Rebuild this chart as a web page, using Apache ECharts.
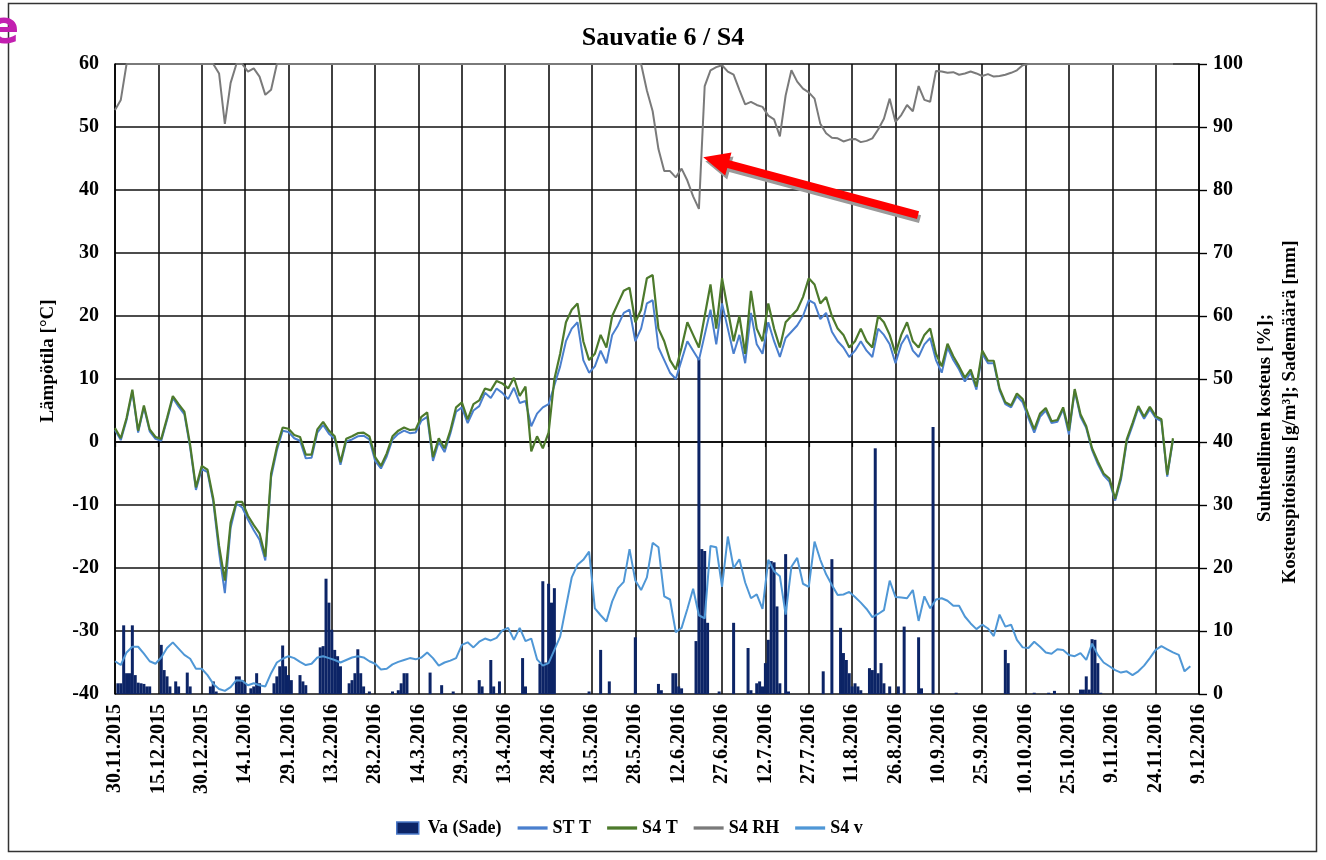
<!DOCTYPE html>
<html>
<head>
<meta charset="utf-8">
<script src="https://cdn.jsdelivr.net/npm/echarts@6/dist/echarts.min.js"></script>
<style>
html,body{margin:0;padding:0;background:#fff;}
#chart{width:1326px;height:860px;}
</style>
</head>
<body>
<div id="chart"></div>
<script>
// Date tick labels, one every 15 days from 30.11.2015
const dateLabels = ['30.11.2015','15.12.2015','30.12.2015','14.1.2016','29.1.2016','13.2.2016',
  '28.2.2016','14.3.2016','29.3.2016','13.4.2016','28.4.2016','13.5.2016','28.5.2016','12.6.2016',
  '27.6.2016','12.7.2016','27.7.2016','11.8.2016','26.8.2016','10.9.2016','25.9.2016','10.10.2016',
  '25.10.2016','9.11.2016','24.11.2016','9.12.2016'];
const tickStep = 15;      // days between date ticks
const sampleStep = 2;     // days between line samples (first sample = 30.11.2015)

// ST T, outdoor temperature [°C]
const stT = [
  1.9, 0.3, 3.5, 8.0, 1.5, 5.5, 1.7, 0.5, 0.2, 3.5,
  7.0, 5.6, 4.4, -0.9, -7.6, -4.3, -4.8, -9.5, -17.5, -24.0,
  -13.6, -9.8, -10.4, -12.3, -14.0, -15.5, -18.8, -5.6, -1.3, 1.8,
  1.6, 0.6, 0.2, -2.6, -2.5, 1.5, 2.7, 1.3, 0.5, -3.6,
  0.1, 0.4, 0.9, 1.0, 0.4, -3.0, -4.2, -2.3, 0.4, 1.3,
  1.8, 1.4, 1.5, 3.4, 4.0, -3.0, 0.0, -1.6, 1.3, 4.8,
  5.5, 3.0, 5.0, 5.7, 7.8, 7.0, 8.5, 7.8, 6.8, 8.6,
  6.2, 6.5, 2.5, 4.5, 5.5, 6.0, 9.0, 12.0, 16.0, 18.0,
  19.0, 13.0, 11.0, 12.0, 14.5, 12.5, 17.0, 18.5, 20.5, 21.0,
  16.0, 18.0, 22.0, 22.5, 15.0, 13.0, 11.0, 10.0, 13.0, 16.0,
  14.5, 13.0, 17.0, 21.0, 15.5, 22.0, 18.0, 14.0, 17.0, 12.5,
  20.5, 15.5, 14.0, 19.0, 16.0, 13.5, 16.5, 17.5, 18.5, 20.0,
  22.5, 22.0, 19.5, 20.5, 17.5, 16.0, 15.0, 13.5, 14.5, 16.0,
  14.5, 13.5, 18.0, 17.0, 15.5, 12.5, 15.5, 17.0, 14.5, 13.5,
  15.5, 16.5, 13.0, 11.0, 15.0, 13.0, 11.5, 9.6, 11.0, 8.3,
  14.0, 12.5, 12.5, 8.2, 6.0, 5.5, 7.3, 6.3, 3.8, 1.5,
  4.0, 5.0, 3.0, 3.2, 5.2, 1.2, 8.1, 4.0, 2.2, -1.3,
  -3.5, -5.3, -6.3, -9.3, -6.0, 0.0, 2.6, 5.4, 3.7, 5.2,
  3.8, 3.3, -5.5, 0.3
];

// S4 T, temperature at measuring point S4 [°C]
const s4T = [
  2.2, 0.6, 3.8, 8.3, 1.8, 5.8, 2.0, 0.8, 0.5, 3.8,
  7.3, 6.0, 4.8, -0.5, -7.2, -3.8, -4.4, -9.0, -16.5, -22.0,
  -12.8, -9.5, -9.5, -11.7, -13.2, -14.5, -18.2, -5.0, -0.8, 2.3,
  2.1, 1.1, 0.8, -2.0, -2.0, 2.0, 3.2, 1.8, 0.9, -3.2,
  0.5, 0.9, 1.4, 1.5, 0.9, -2.4, -3.8, -1.8, 0.9, 1.8,
  2.3, 1.9, 2.0, 4.0, 4.7, -2.4, 0.6, -1.0, 1.8, 5.5,
  6.3, 3.6, 6.0, 6.6, 8.5, 8.2, 9.7, 9.3, 8.5, 10.2,
  7.3, 8.8, -1.5, 0.9, -1.0, 1.5, 10.0, 14.0, 19.0, 21.0,
  22.0, 16.0, 13.0, 14.0, 17.0, 15.0, 20.0, 22.0, 24.0, 24.5,
  19.0, 21.0, 26.0, 26.5, 18.0, 16.0, 13.0, 11.5, 15.0, 19.0,
  17.0, 15.0, 20.0, 25.0, 18.0, 26.0, 21.0, 16.0, 20.0, 14.0,
  24.0, 18.0, 16.0, 22.0, 18.0, 15.0, 19.0, 20.0, 21.0, 23.0,
  26.0, 25.0, 22.0, 23.0, 20.0, 18.0, 17.0, 15.0, 16.0, 18.0,
  16.0, 15.0, 20.0, 19.0, 17.0, 14.0, 17.0, 19.0, 16.0, 15.0,
  17.0, 18.0, 14.0, 12.0, 15.6, 13.6, 12.0, 10.2, 11.5, 8.8,
  14.5, 12.9, 12.9, 8.5, 6.3, 5.8, 7.7, 6.8, 4.3, 2.0,
  4.5, 5.4, 3.3, 3.5, 5.5, 1.8, 8.4, 4.4, 2.5, -1.0,
  -3.1, -5.0, -5.8, -9.0, -5.5, 0.4, 3.0, 5.7, 4.0, 5.6,
  4.1, 3.6, -5.2, 0.6
];

// S4 RH, relative humidity at S4 [%]
const s4RH = [
  92.7, 94.3, 100, 100, 100, 100, 100, 100, 100, 100,
  100, 100, 100, 100, 100, 100, 100, 100, 98.5, 90.5,
  97.0, 100, 100, 98.8, 99.3, 98.0, 95.1, 95.9, 100, 100,
  100, 100, 100, 100, 100, 100, 100, 100, 100, 100,
  100, 100, 100, 100, 100, 100, 100, 100, 100, 100,
  100, 100, 100, 100, 100, 100, 100, 100, 100, 100,
  100, 100, 100, 100, 100, 100, 100, 100, 100, 100,
  100, 100, 100, 100, 100, 100, 100, 100, 100, 100,
  100, 100, 100, 100, 100, 100, 100, 100, 100, 100,
  100, 100, 95.8, 92.5, 86.5, 83.0, 83.0, 82.0, 83.4, 81.5,
  79.0, 77.0, 96.5, 99.0, 99.5, 99.8, 98.8, 98.3, 95.9, 93.6,
  94.0, 93.5, 93.2, 91.8, 91.2, 88.5, 95.0, 99.0, 97.2, 96.1,
  95.5, 94.5, 90.5, 89.0, 88.3, 88.2, 87.7, 88.0, 88.1, 87.6,
  87.8, 88.2, 89.6, 91.3, 94.5, 90.8, 91.9, 93.5, 92.5, 96.5,
  94.3, 94.0, 98.9, 98.8, 98.6, 98.7, 98.3, 98.5, 98.8, 98.5,
  98.1, 98.4, 98.0, 98.1, 98.3, 98.6, 99.0, 99.8, 100, 100,
  100, 100, 100, 100, 100, 100, 100, 100, 100, 100,
  100, 100, 100, 100, 100, 100, 100, 100, 100, 100,
  100, 100, 100, 100
];

// S4 v, moisture content at S4 [g/m³]
const s4v = [
  5.2, 4.6, 6.6, 7.5, 7.5, 6.4, 5.2, 4.8, 5.8, 7.3,
  8.2, 7.2, 6.2, 5.6, 4.0, 4.0, 3.0, 1.6, 0.8, 0.5,
  1.1, 2.2, 2.1, 1.4, 1.7, 1.4, 1.2, 3.3, 5.0, 5.6,
  6.0, 5.7, 5.1, 4.6, 4.8, 5.8, 6.0, 5.7, 5.4, 5.0,
  5.4, 5.8, 6.0, 5.8, 5.2, 4.8, 3.9, 4.0, 4.7, 5.1,
  5.4, 5.7, 5.5, 5.8, 6.6, 5.7, 4.5, 5.0, 5.3, 5.7,
  7.8, 8.2, 7.4, 8.3, 8.8, 8.5, 8.9, 10.1, 10.5, 8.6,
  10.5, 8.4, 8.8, 5.5, 4.5, 4.9, 7.0, 9.1, 13.8, 18.5,
  20.5, 21.3, 22.6, 13.6, 12.5, 11.5, 14.7, 16.8, 17.8, 23.0,
  18.0, 16.5, 18.5, 24.0, 23.3, 15.5, 15.0, 9.8, 10.5, 13.5,
  16.7, 12.5, 12.0, 23.5, 23.3, 17.0, 25.0, 20.0, 21.4, 17.7,
  15.2, 15.8, 13.5, 21.3, 19.5, 18.7, 12.6, 20.2, 21.6, 17.5,
  17.0, 24.2, 21.3, 19.0, 17.3, 15.7, 15.8, 16.2, 15.4, 14.5,
  13.5, 12.2, 12.7, 13.3, 18.0, 15.4, 15.3, 15.2, 16.5, 11.6,
  15.5, 13.6, 15.0, 15.2, 14.8, 14.0, 14.0, 12.3, 11.2, 10.3,
  11.0, 10.4, 9.2, 12.6, 10.7, 11.0, 8.6, 7.4, 7.3, 8.3,
  7.5, 6.6, 6.4, 7.1, 7.0, 6.2, 6.0, 6.5, 5.4, 8.0,
  6.2, 5.0, 4.4, 3.8, 3.4, 3.6, 3.0, 3.6, 4.5, 5.7,
  7.0, 7.6, 7.1, 6.6, 6.2, 3.6, 4.4
];

// Va (Sade): daily precipitation [mm] as [day since 30.11.2015, mm]
const rainDays = [1,2,3,4,5,6,7,8,9,10,11,12,16,17,18,19,21,22,25,26,33,34,35,42,43,44,45,47,48,49,50,
  55,56,57,58,59,60,61,64,65,66,71,72,73,74,75,76,77,78,81,82,83,84,85,86,88,96,98,99,100,101,109,113,117,
  126,127,130,131,133,141,142,147,148,149,150,151,152,164,168,171,180,188,189,193,194,195,196,
  201,202,203,204,205,209,214,219,220,222,223,224,225,226,227,228,229,230,232,233,245,248,251,252,253,
  254,255,256,257,258,261,262,263,264,265,266,268,271,273,278,279,283,291,308,309,318,323,325,
  334,335,336,337,338,339,340,341];
const rainMm = [1.7,1.7,10.9,3.3,3.3,10.9,3.0,1.8,1.7,1.6,1.2,1.2,7.8,3.8,2.8,1.2,2.0,1.2,3.4,1.2,1.2,2.0,0.4,2.8,2.8,2.2,1.7,0.9,1.2,3.3,1.7,
  1.7,2.8,4.4,7.7,4.4,3.0,2.2,3.0,2.0,1.4,7.4,7.6,18.3,14.5,10.2,7.0,6.0,4.4,1.7,2.2,3.3,7.1,3.3,1.2,0.4,0.4,0.6,1.7,3.3,3.3,3.4,1.4,0.4,
  2.2,1.2,5.4,1.2,2.0,5.7,1.2,4.8,17.9,5.0,17.5,14.5,16.8,0.4,7.0,2.0,9.0,1.6,0.6,3.3,3.3,1.2,0.9,
  8.4,53.2,23.0,22.7,11.3,0.4,11.3,7.3,0.6,1.7,2.0,1.2,4.9,8.6,21.1,20.9,13.9,1.7,22.2,0.4,3.6,21.4,10.5,6.5,5.4,
  3.3,1.2,1.7,1.2,0.6,4.1,3.8,39.0,3.3,4.9,1.7,1.2,1.2,10.7,9.0,0.9,42.4,0.2,7.0,4.9,0.2,0.2,0.5,
  0.7,0.7,2.8,0.7,8.7,8.6,4.9,0.2];

const FONT = "'Liberation Serif', 'Times New Roman', serif";
const toPairs = arr => arr.map((v, i) => [i * sampleStep, v]);
// legend keys: thin bar for the line series, narrower box for the rain bars
const LINE_ICON = 'path://M0,0L100,0L100,11L0,11Z';
const BAR_ICON = 'path://M0,0L22,0L22,12L0,12Z';

const chart = echarts.init(document.getElementById('chart'), null, {renderer: 'canvas'});

const labelStyle = {color: '#000', fontFamily: FONT, fontWeight: 'bold'};

chart.setOption({
  animation: false,
  backgroundColor: '#fff',
  title: {
    text: 'Sauvatie 6 / S4',
    left: 'center',
    top: 20,
    textStyle: {color: '#000', fontFamily: FONT, fontWeight: 'bold', fontSize: 26}
  },
  grid: {left: 115, right: 127, top: 64, bottom: 166, containLabel: false},
  legend: {
    bottom: 18,
    left: 391,
    itemWidth: 30,
    itemHeight: 12,
    itemGap: 16,
    textStyle: Object.assign({fontSize: 18}, labelStyle),
    data: [
      {name: 'Va (Sade)', icon: BAR_ICON, itemStyle: {color: '#0c2466', borderColor: '#4a78c8', borderWidth: 1.5}},
      {name: 'ST T', icon: LINE_ICON},
      {name: 'S4 T', icon: LINE_ICON},
      {name: 'S4 RH', icon: LINE_ICON},
      {name: 'S4 v', icon: LINE_ICON}
    ]
  },
  xAxis: {
    type: 'value',
    min: 0,
    max: (dateLabels.length - 1) * tickStep,
    interval: tickStep,
    axisLine: {show: true, lineStyle: {color: '#000', width: 1.6}},
    axisTick: {show: true, length: 5, lineStyle: {color: '#000', width: 1.2}},
    splitLine: {show: true, lineStyle: {color: '#111', width: 1.6}},
    axisLabel: Object.assign({
      fontSize: 20, rotate: 90, margin: 10,
      formatter: v => dateLabels[Math.round(v / tickStep)] || ''
    }, labelStyle)
  },
  yAxis: [
    {
      type: 'value', min: -40, max: 60, interval: 10,
      axisLine: {show: true, lineStyle: {color: '#000', width: 1.6}},
      axisTick: {show: false},
      splitLine: {show: true, lineStyle: {color: '#111', width: 1.6}},
      axisLabel: Object.assign({fontSize: 20, margin: 16}, labelStyle)
    },
    {
      type: 'value', min: 0, max: 100, interval: 10, position: 'right',
      axisLine: {show: true, lineStyle: {color: '#000', width: 1.6}},
      axisTick: {show: true, length: 8, inside: false, lineStyle: {color: '#000', width: 1.4}},
      splitLine: {show: false},
      axisLabel: Object.assign({fontSize: 20, margin: 14}, labelStyle)
    }
  ],
  series: [
    {
      name: 'Va (Sade)', type: 'bar', yAxisIndex: 1, barWidth: 3,
      itemStyle: {color: '#0c2466'},
      data: rainDays.map((d, i) => [d, rainMm[i]]),
      z: 2
    },
    {
      name: 'ST T', type: 'line', yAxisIndex: 0, showSymbol: false, symbol: 'none',
      lineStyle: {color: '#4a7fce', width: 2}, itemStyle: {color: '#4a7fce'},
      data: toPairs(stT), z: 3
    },
    {
      name: 'S4 T', type: 'line', yAxisIndex: 0, showSymbol: false, symbol: 'none',
      lineStyle: {color: '#4d7a2c', width: 2.2}, itemStyle: {color: '#4d7a2c'},
      data: toPairs(s4T), z: 4
    },
    {
      name: 'S4 RH', type: 'line', yAxisIndex: 1, showSymbol: false, symbol: 'none',
      lineStyle: {color: '#7a7a7a', width: 2}, itemStyle: {color: '#7a7a7a'},
      data: toPairs(s4RH), z: 4
    },
    {
      name: 'S4 v', type: 'line', yAxisIndex: 1, showSymbol: false, symbol: 'none',
      lineStyle: {color: '#4f97d6', width: 2}, itemStyle: {color: '#4f97d6'},
      data: toPairs(s4v), z: 5
    }
  ]
});

// Annotation arrow pointing at the sudden RH recovery in late June
function arrowPoly(p0, p1, shaftW, headL, headW) {
  const dx = p1[0] - p0[0], dy = p1[1] - p0[1];
  const len = Math.hypot(dx, dy);
  const ux = dx / len, uy = dy / len, nx = -uy, ny = ux;
  const bx = p1[0] - ux * headL, by = p1[1] - uy * headL;
  return [
    [p0[0] + nx * shaftW / 2, p0[1] + ny * shaftW / 2],
    [bx + nx * shaftW / 2, by + ny * shaftW / 2],
    [bx + nx * headW / 2, by + ny * headW / 2],
    [p1[0], p1[1]],
    [bx - nx * headW / 2, by - ny * headW / 2],
    [bx - nx * shaftW / 2, by - ny * shaftW / 2],
    [p0[0] - nx * shaftW / 2, p0[1] - ny * shaftW / 2]
  ];
}
const arrowTip = chart.convertToPixel({xAxisIndex: 0, yAxisIndex: 1}, [203.5, 85.2]);
const arrowTail = chart.convertToPixel({xAxisIndex: 0, yAxisIndex: 1}, [277.8, 76.0]);
const poly = arrowPoly(arrowTail, arrowTip, 8, 26, 24);
const shadow = poly.map(p => [p[0] + 2, p[1] + 4]);

chart.setOption({
  graphic: [
    {type: 'rect', shape: {x: 8.5, y: 3.5, width: 1308, height: 848},
     style: {fill: 'none', stroke: '#333', lineWidth: 1.5}, z: 100},
    {type: 'text', x: -12, y: 8, style: {text: 'e', fontSize: 46, fontWeight: 'bold',
     fontFamily: "'DejaVu Sans', sans-serif", fill: '#c21fb0'}, z: 100},
    {type: 'polygon', shape: {points: shadow}, style: {fill: '#9a9a9a'}, z: 50},
    {type: 'polygon', shape: {points: poly}, style: {fill: '#ff0000'}, z: 51},
    {type: 'text', x: 48, y: 361, rotation: Math.PI / 2,
     style: {text: 'Lämpötila [°C]', fontSize: 19, fontWeight: 'bold', fontFamily: FONT, fill: '#000',
       align: 'center', verticalAlign: 'middle'}, z: 100},
    {type: 'text', x: 1265, y: 418, rotation: Math.PI / 2,
     style: {text: 'Suhteellinen kosteus [%];', fontSize: 19, fontWeight: 'bold', fontFamily: FONT, fill: '#000',
       align: 'center', verticalAlign: 'middle'}, z: 100},
    {type: 'text', x: 1290, y: 412, rotation: Math.PI / 2,
     style: {text: 'Kosteuspitoisuus [g/m³]; Sademäärä [mm]', fontSize: 19, fontWeight: 'bold', fontFamily: FONT, fill: '#000',
       align: 'center', verticalAlign: 'middle'}, z: 100}
  ]
});
</script>
</body>
</html>
